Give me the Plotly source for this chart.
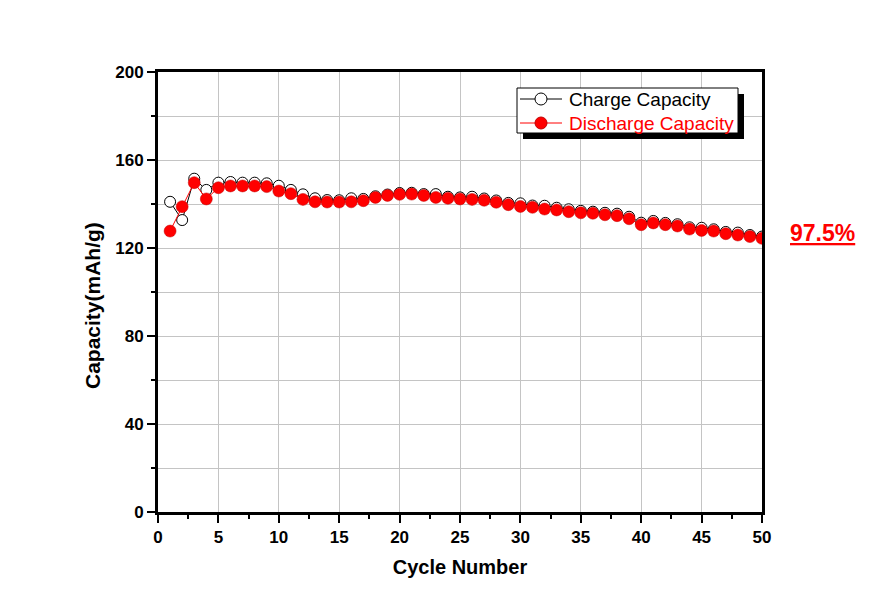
import plotly.graph_objects as go

# cycle data
cycles = list(range(1, 51))
charge = [141.0, 132.7, 151.5, 146.4, 149.7, 150.0, 149.7, 149.7, 149.4, 148.3,
          146.4, 144.4, 142.6, 141.8, 141.7, 142.6, 142.3, 143.5, 144.3, 145.0,
          145.1, 144.5, 144.5, 143.3, 143.0, 143.3, 142.5, 141.6, 140.5, 140.3,
          139.3, 139.2, 138.3, 137.6, 136.9, 136.5, 136.0, 135.6, 134.2, 131.5,
          132.3, 131.4, 130.8, 129.4, 129.2, 128.5, 127.3, 127.0, 125.9, 125.2]
discharge = [127.7, 138.8, 149.7, 142.3, 147.4, 148.2, 148.2, 148.2, 147.9, 145.9,
             144.7, 142.1, 141.0, 140.9, 140.9, 141.0, 141.5, 143.0, 143.9, 144.4,
             144.5, 143.9, 143.0, 142.6, 142.3, 142.1, 141.7, 140.8, 139.7, 138.9,
             138.5, 137.7, 137.3, 136.5, 136.0, 135.8, 135.1, 134.7, 133.3, 130.6,
             131.4, 130.6, 130.0, 128.6, 128.0, 127.7, 126.5, 125.9, 125.2, 124.4]
series_names = ["Charge Capacity", "Discharge Capacity"]
retention_label = "97.5%"

FONT = "Liberation Sans, Arial, sans-serif"
RED = "#ff0000"


# page pixel -> paper fraction (plot area spans page x 158..762, y 72..512)
def px(p):
    return (p - 158) / 604


def py(p):
    return (512 - p) / 440


fig = go.Figure()
fig.add_trace(go.Scatter(
    x=cycles, y=charge, mode="lines+markers", name=series_names[0],
    line=dict(color="black", width=1),
    marker=dict(symbol="circle", size=11, color="white",
                line=dict(color="black", width=1)),
))
fig.add_trace(go.Scatter(
    x=cycles, y=discharge, mode="lines+markers", name=series_names[1],
    line=dict(color=RED, width=1),
    marker=dict(symbol="circle", size=12, color=RED,
                line=dict(color="#c00000", width=0.5)),
))

# hand-made legend box with drop shadow (Origin style)
shapes = [
    dict(type="rect", x0=px(523), x1=px(744), y0=py(139), y1=py(94),
         fillcolor="black", line=dict(width=0)),
    dict(type="rect", x0=px(517), x1=px(738), y0=py(133), y1=py(88),
         fillcolor="white", line=dict(color="black", width=1)),
]
rows = [(99, "black", "white", "black"), (123, RED, RED, "#c00000")]
for (yy, lc, fc, oc), name in zip(rows, series_names):
    shapes.append(dict(type="line", x0=px(520), x1=px(562), y0=py(yy), y1=py(yy),
                       line=dict(color=lc, width=1)))
    shapes.append(dict(type="circle", xsizemode="pixel", ysizemode="pixel",
                       xanchor=px(541), yanchor=py(yy),
                       x0=-6, x1=6, y0=-6, y1=6,
                       fillcolor=fc, line=dict(color=oc, width=1)))
    fig.add_annotation(x=px(567), y=py(yy), xref="paper", yref="paper",
                       xanchor="left", yanchor="middle", showarrow=False,
                       text=name, font=dict(family=FONT, size=19, color=lc))
for s in shapes:
    s.update(xref="paper", yref="paper", layer="above")
fig.update_layout(shapes=shapes)

fig.add_annotation(x=px(822), y=py(233), xref="paper", yref="paper",
                   xanchor="center", yanchor="middle", showarrow=False,
                   text="<b><u>" + retention_label + "</u></b>",
                   font=dict(family=FONT, size=23, color=RED))

# y title placed by hand (Origin puts it slightly below centre)
fig.add_annotation(x=px(92), y=py(306), xref="paper", yref="paper",
                   xanchor="center", yanchor="middle", showarrow=False,
                   textangle=-90, text="<b>Capacity(mAh/g)</b>",
                   font=dict(family=FONT, size=21, color="black"))

# the page has an 8px body margin, so margins are shifted by 8px
fig.update_layout(
    width=884, height=615,
    margin=dict(l=150, r=130, t=64, b=111),
    paper_bgcolor="white", plot_bgcolor="white",
    font=dict(family=FONT, size=17, color="black"),
    showlegend=False,
    xaxis=dict(
        range=[0, 50], dtick=5, tick0=0,
        showline=True, linecolor="black", linewidth=3, mirror=True,
        ticks="outside", ticklen=8, tickwidth=2, tickcolor="black",
        showgrid=True, gridcolor="#c4c4c4", gridwidth=1, zeroline=False,
        minor=dict(dtick=2.5, ticks="outside", ticklen=4, tickwidth=2,
                   tickcolor="black", showgrid=False),
        tickfont=dict(family=FONT, size=17, color="black", weight="bold"),
        title=dict(text="<b>Cycle Number</b>", standoff=14,
                   font=dict(family=FONT, size=20, color="black")),
    ),
    yaxis=dict(
        range=[0, 200], dtick=40, tick0=0,
        showline=True, linecolor="black", linewidth=3, mirror=True,
        ticks="outside", ticklen=8, tickwidth=2, tickcolor="black",
        showgrid=True, gridcolor="#c4c4c4", gridwidth=1, zeroline=False,
        minor=dict(dtick=20, ticks="outside", ticklen=4, tickwidth=2,
                   tickcolor="black", showgrid=True, gridcolor="#c4c4c4"),
        tickfont=dict(family=FONT, size=17, color="black", weight="bold"),
    ),
)

fig.write_html("out.html")
